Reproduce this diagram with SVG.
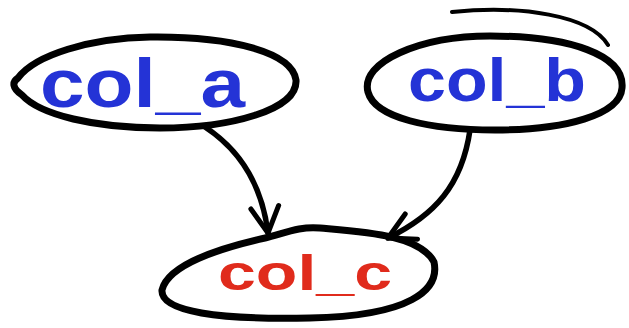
<svg xmlns="http://www.w3.org/2000/svg" width="629" height="328" viewBox="0 0 629 328">
<style>
.node{fill:#fff;stroke:#000;stroke-width:7;stroke-linejoin:round}
.lbl{font-family:"Liberation Sans",Arial,sans-serif;font-weight:bold}
.blue{fill:#2433d6}
.red{fill:#e02b1c}
.edge{fill:none;stroke:#000;stroke-width:5.5;stroke-linecap:round}
</style>
<defs>
<marker id="ah" viewBox="-30 -18 34 36" markerWidth="34" markerHeight="36" refX="0" refY="0" orient="auto" markerUnits="userSpaceOnUse">
<path d="M-26,-14 L0,0 L-26,14" fill="none" stroke="#000" stroke-width="5" stroke-linecap="round" stroke-linejoin="round"/>
</marker>
</defs>
<rect width="629" height="328" fill="#fff"/>
<g id="col_a">
<path class="node" d="M18,78 C35,55 90,38 150,37 C230,36 292,52 296,80 C298,110 230,128 160,128 C95,128 40,115 22,95 C12,88 12,82 18,78 Z"/>
<text class="lbl blue" x="40" y="107" font-size="68" textLength="205" lengthAdjust="spacingAndGlyphs">col_a</text>
</g>
<g id="col_b">
<path class="node" d="M368,92 C360,62 420,36 490,36 C570,36 625,55 622,88 C620,115 565,130 495,130 C430,130 375,118 368,92 Z"/>
<path d="M452,12 C520,5 590,15 608,45" fill="none" stroke="#000" stroke-width="4" stroke-linecap="round"/>
<text class="lbl blue" x="408" y="101" font-size="62" textLength="178" lengthAdjust="spacingAndGlyphs">col_b</text>
</g>
<g id="col_c">
<path class="node" d="M162,290 C168,265 220,248 265,238 C285,233 300,226 320,228 C365,232 420,235 434,262 C440,290 410,316 310,318 C220,320 160,312 162,290 Z"/>
<text class="lbl red" x="218" y="290" font-size="50" textLength="174" lengthAdjust="spacingAndGlyphs">col_c</text>
</g>
<g id="edges">
<path class="edge" d="M205,127 C240,150 262,185 268,233" marker-end="url(#ah)"/>
<path class="edge" d="M470,130 C462,185 435,215 388,238" marker-end="url(#ah)"/>
</g>
</svg>
